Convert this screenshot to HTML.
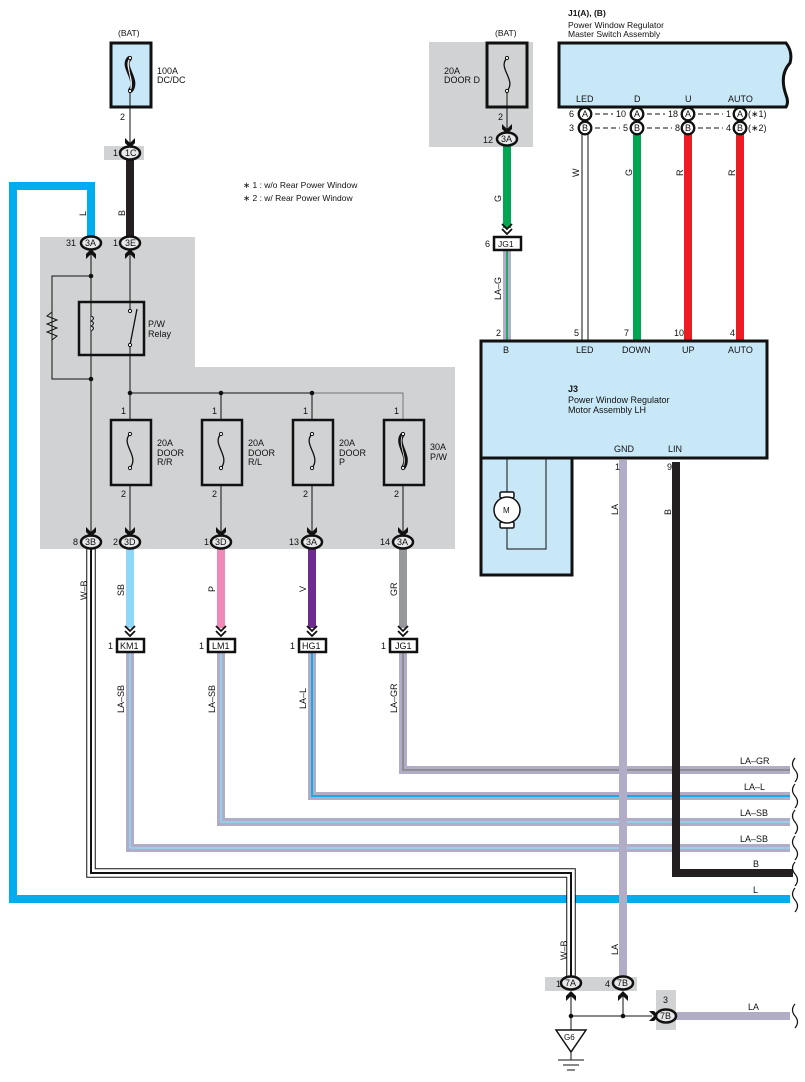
<!DOCTYPE html>
<html><head><meta charset="utf-8"><style>
html,body{margin:0;padding:0;background:#fff;}
svg{display:block;font-family:"Liberation Sans",sans-serif;}
text{font-size:9px;fill:#111;}
</style></head><body>
<svg width="805" height="1082" viewBox="0 0 805 1082" xmlns="http://www.w3.org/2000/svg">
<defs>
<g id="dn"><path d="M-5,-9 L0,-4 L5,-9 L5,-4 L0,1 L-5,-4 Z" fill="#111"/></g>
<g id="up"><path d="M-5,9 L0,4 L5,9 L5,4 L0,-1 L-5,4 Z" fill="#111"/></g>
<g id="dd"><polyline points="-5,-10 0,-5 5,-10" fill="none" stroke="#111" stroke-width="1.8"/><polyline points="-5,-5 0,0 5,-5" fill="none" stroke="#111" stroke-width="1.8"/></g>
</defs>

<path d="M40,237 H195 V367 H455 V549 H40 Z" fill="#d1d2d4"/>
<rect x="104" y="146" width="40" height="14" fill="#d1d2d4"/>
<rect x="429" y="42" width="104" height="105" fill="#d1d2d4"/>
<rect x="545" y="977" width="92" height="14" fill="#d1d2d4"/>
<rect x="656" y="990" width="20" height="40" fill="#d1d2d4"/>

<text x="118" y="36" style="font-size:8.5px">(BAT)</text>
<rect x="111" y="43" width="40" height="64" fill="#c8e8f8" stroke="#111" stroke-width="3"/>
<path d="M130,58 C120,66 140,80 130,91" fill="none" stroke="#111" stroke-width="5"/>
<path d="M130,58 C123,66 136,80 130,91" fill="none" stroke="#fff" stroke-width="0.8"/>
<path d="M130,58 C126,66 133,80 130,91" fill="none" stroke="#fff" stroke-width="0.6"/>
<circle cx="130" cy="58" r="1.6" fill="#fff" stroke="#111"/><circle cx="130" cy="91" r="1.6" fill="#fff" stroke="#111"/>
<line x1="130" y1="92" x2="130" y2="145" stroke="#111"/>
<text x="157" y="74">100A</text><text x="157" y="83">DC/DC</text>
<text x="120" y="120">2</text>
<use href="#dn" x="130" y="147"/>

<polyline points="91,243 91,186 13,186 13,899 790,899" fill="none" stroke="#00aeef" stroke-width="8"/>
<line x1="130" y1="153" x2="130" y2="243" stroke="#231f20" stroke-width="8"/>
<text transform="translate(86,216) rotate(-90)">L</text>
<text transform="translate(125,216) rotate(-90)">B</text>

<text x="243" y="188" style="font-size:8.5px">∗ 1 : w/o Rear Power Window</text>
<text x="243" y="201" style="font-size:8.5px">∗ 2 : w/ Rear Power Window</text>

<line x1="91" y1="250" x2="91" y2="540" stroke="#111"/>
<line x1="130" y1="250" x2="130" y2="540" stroke="#111"/>
<polyline points="91,276 52,276 52,379 91,379" fill="none" stroke="#111"/>
<polyline points="52,312 47,316 57,320 47,324 57,328 47,332 57,336 52,340" fill="none" stroke="#111"/>
<rect x="79" y="302" width="65" height="53" fill="#d1d2d4" stroke="#111" stroke-width="2.5"/>
<line x1="91" y1="302" x2="91" y2="355" stroke="#111"/>
<path d="M91,316 q5,2 0,5 q5,2 0,5 q5,2 0,5" fill="#d1d2d4" stroke="#111"/>
<line x1="130" y1="302" x2="130" y2="311" stroke="#111"/>
<line x1="130" y1="345" x2="130" y2="355" stroke="#111"/>
<line x1="130" y1="345" x2="137" y2="309" stroke="#111" stroke-width="1.3"/>
<circle cx="130" cy="311" r="1.6" fill="#fff" stroke="#111"/><circle cx="130" cy="345" r="1.6" fill="#fff" stroke="#111"/>
<text x="148" y="327">P/W</text><text x="148" y="337">Relay</text>
<circle cx="91" cy="276" r="2.3" fill="#111"/><circle cx="91" cy="379" r="2.3" fill="#111"/>
<line x1="130" y1="393" x2="312" y2="393" stroke="#111"/>
<polyline points="312,393 403,393 403,419" fill="none" stroke="#777"/>
<circle cx="130" cy="393" r="2.3" fill="#111"/><circle cx="221" cy="393" r="2.3" fill="#111"/><circle cx="312" cy="393" r="2.3" fill="#111"/>
<line x1="221" y1="393" x2="221" y2="540" stroke="#111"/>
<line x1="312" y1="393" x2="312" y2="540" stroke="#111"/>
<line x1="403" y1="419" x2="403" y2="540" stroke="#111"/>

<g fill="#d1d2d4" stroke="#111" stroke-width="2.5">
<rect x="111" y="420" width="40" height="65"/><rect x="202" y="420" width="40" height="65"/>
<rect x="293" y="420" width="40" height="65"/><rect x="384" y="420" width="40" height="65"/>
</g>
<g fill="none" stroke="#111" stroke-width="1.3">
<path d="M130,434 C120,444 140,456 130,468"/><path d="M221,434 C211,444 231,456 221,468"/>
<path d="M312,434 C302,444 322,456 312,468"/>
</g>
<path d="M403,434 C394,444 412,456 403,468" fill="none" stroke="#111" stroke-width="4.5"/>
<path d="M403,434 C397,444 408,456 403,468" fill="none" stroke="#fff" stroke-width="0.7"/>
<g fill="#fff" stroke="#111">
<circle cx="130" cy="434" r="1.6"/><circle cx="130" cy="468" r="1.6"/>
<circle cx="221" cy="434" r="1.6"/><circle cx="221" cy="468" r="1.6"/>
<circle cx="312" cy="434" r="1.6"/><circle cx="312" cy="468" r="1.6"/>
<circle cx="403" cy="434" r="1.6"/><circle cx="403" cy="468" r="1.6"/>
</g>
<g>
<text x="121" y="414">1</text><text x="212" y="414">1</text><text x="303" y="414">1</text><text x="394" y="414">1</text>
<text x="121" y="497">2</text><text x="212" y="497">2</text><text x="303" y="497">2</text><text x="394" y="497">2</text>
<text x="157" y="446">20A</text><text x="157" y="456">DOOR</text><text x="157" y="465">R/R</text>
<text x="248" y="446">20A</text><text x="248" y="456">DOOR</text><text x="248" y="465">R/L</text>
<text x="339" y="446">20A</text><text x="339" y="456">DOOR</text><text x="339" y="465">P</text>
<text x="430" y="450">30A</text><text x="430" y="460">P/W</text>
</g>

<line x1="130" y1="548" x2="130" y2="628" stroke="#8fd8f8" stroke-width="8"/>
<line x1="221" y1="548" x2="221" y2="628" stroke="#f088b8" stroke-width="8"/>
<line x1="312" y1="548" x2="312" y2="628" stroke="#6e2b90" stroke-width="8"/>
<line x1="403" y1="548" x2="403" y2="628" stroke="#97989b" stroke-width="8"/>
<g>
<text transform="translate(124,596) rotate(-90)">SB</text>
<text transform="translate(215,592) rotate(-90)">P</text>
<text transform="translate(306,592) rotate(-90)">V</text>
<text transform="translate(397,596) rotate(-90)">GR</text>
<text transform="translate(87,600) rotate(-90)">W–B</text>
</g>
<use href="#dd" x="130" y="636"/><use href="#dd" x="221" y="636"/><use href="#dd" x="312" y="636"/><use href="#dd" x="403" y="636"/>

<g fill="none">
<polyline points="130,652 130,848 790,848" stroke="#b1adc7" stroke-width="8"/>
<polyline points="130,652 130,848 790,848" stroke="#8fd8f8" stroke-width="1.5"/>
<polyline points="221,652 221,822 790,822" stroke="#b1adc7" stroke-width="8"/>
<polyline points="221,652 221,822 790,822" stroke="#8fd8f8" stroke-width="1.5"/>
<polyline points="312,652 312,796 790,796" stroke="#b1adc7" stroke-width="8"/>
<polyline points="312,652 312,796 790,796" stroke="#00aeef" stroke-width="1.8"/>
<polyline points="403,652 403,770 790,770" stroke="#b1adc7" stroke-width="8"/>
<polyline points="403,652 403,770 790,770" stroke="#8a8a8c" stroke-width="1.8"/>
</g>
<g>
<text transform="translate(124,713) rotate(-90)">LA–SB</text>
<text transform="translate(215,713) rotate(-90)">LA–SB</text>
<text transform="translate(306,709) rotate(-90)">LA–L</text>
<text transform="translate(397,713) rotate(-90)">LA–GR</text>
</g>
<g fill="#fff" stroke="#111" stroke-width="2.5">
<rect x="117" y="639" width="27" height="13"/><rect x="208" y="639" width="27" height="13"/>
<rect x="299" y="639" width="27" height="13"/><rect x="390" y="639" width="27" height="13"/>
</g>
<g style="font-size:8.5px">
<text x="120" y="649">KM1</text><text x="212" y="649">LM1</text><text x="302" y="649">HG1</text><text x="395" y="649">JG1</text>
<text x="108" y="649">1</text><text x="199" y="649">1</text><text x="290" y="649">1</text><text x="381" y="649">1</text>
</g>

<polyline points="676,462 676,873 793,873" fill="none" stroke="#231f20" stroke-width="8"/>
<line x1="623" y1="460" x2="623" y2="977" stroke="#b1adc7" stroke-width="8"/>

<polyline points="91,548 91,873 571,873 571,978" fill="none" stroke="#111" stroke-width="9.5"/>
<polyline points="91,548 91,873 571,873 571,978" fill="none" stroke="#fff" stroke-width="7.5"/>
<polyline points="91,548 91,873 571,873 571,978" fill="none" stroke="#111" stroke-width="2"/>

<g>
<text x="740" y="764">LA–GR</text><text x="744" y="790">LA–L</text><text x="740" y="816">LA–SB</text>
<text x="740" y="842">LA–SB</text><text x="753" y="867">B</text><text x="753" y="893">L</text>
<text x="748" y="1010">LA</text>
</g>
<g fill="none" stroke="#111" stroke-width="1.2">
<path d="M795,758 q-5,6 0,12 q5,6 0,12"/><path d="M795,784 q-5,6 0,12 q5,6 0,12"/>
<path d="M795,810 q-5,6 0,12 q5,6 0,12"/><path d="M795,836 q-5,6 0,12 q5,6 0,12"/>
<path d="M795,862 q-5,6 0,12 q5,6 0,12"/><path d="M795,888 q-5,6 0,12 q5,6 0,12"/>
<path d="M795,1004 q-5,6 0,12 q5,6 0,12"/>
</g>

<line x1="676" y1="1016" x2="790" y2="1016" stroke="#b1adc7" stroke-width="8"/>
<line x1="571" y1="992" x2="571" y2="1030" stroke="#111"/>
<line x1="623" y1="992" x2="623" y2="1016" stroke="#111"/>
<line x1="571" y1="1016" x2="652" y2="1016" stroke="#111"/>
<circle cx="571" cy="1016" r="2.3" fill="#111"/><circle cx="623" cy="1016" r="2.3" fill="#111"/>
<use href="#up" x="571" y="992"/><use href="#up" x="623" y="992"/>
<path d="M649,1011 L654,1016 L649,1021 L654,1021 L659,1016 L654,1011 Z" fill="#111"/>
<path d="M556,1030 L586,1030 L571,1052 Z" fill="#fff" stroke="#111" stroke-width="1.5"/>
<text x="564" y="1040" style="font-size:8px">G6</text>
<line x1="571" y1="1052" x2="571" y2="1060" stroke="#111"/>
<line x1="558" y1="1060" x2="584" y2="1060" stroke="#111"/>
<line x1="563" y1="1065" x2="579" y2="1065" stroke="#111"/>
<line x1="567" y1="1070" x2="575" y2="1070" stroke="#111"/>
<text x="556" y="987">1</text><text x="605" y="987">4</text><text x="663" y="1003">3</text>
<text transform="translate(567,960) rotate(-90)">W–B</text>
<text transform="translate(618,955) rotate(-90)">LA</text>
<text transform="translate(618,515) rotate(-90)">LA</text>
<text transform="translate(671,515) rotate(-90)">B</text>

<text x="495" y="36" style="font-size:8.5px">(BAT)</text>
<rect x="487" y="43" width="40" height="64" fill="#d1d2d4" stroke="#111" stroke-width="3"/>
<path d="M507,58 C497,68 517,80 507,91" fill="none" stroke="#111" stroke-width="1.3"/>
<circle cx="507" cy="58" r="1.6" fill="#fff" stroke="#111"/><circle cx="507" cy="91" r="1.6" fill="#fff" stroke="#111"/>
<line x1="507" y1="92" x2="507" y2="132" stroke="#111"/>
<use href="#dn" x="507" y="133"/>
<text x="444" y="74">20A</text><text x="444" y="83">DOOR D</text>
<text x="498" y="120">2</text><text x="483" y="143">12</text>
<line x1="507" y1="146" x2="507" y2="228" stroke="#00a651" stroke-width="8"/>
<use href="#dd" x="507" y="234"/>
<line x1="507" y1="251" x2="507" y2="340" stroke="#b1adc7" stroke-width="8"/>
<line x1="507" y1="251" x2="507" y2="340" stroke="#00a651" stroke-width="1.6"/>
<rect x="494" y="237" width="27" height="13" fill="#fff" stroke="#111" stroke-width="2.5"/>
<text x="498" y="247" style="font-size:8.5px">JG1</text><text x="485" y="247">6</text>
<text transform="translate(501,202) rotate(-90)">G</text>
<text transform="translate(501,300) rotate(-90)">LA–G</text>

<text x="568" y="16" style="font-weight:bold;font-size:8.5px">J1(A), (B)</text>
<text x="568" y="28" style="font-size:8.5px">Power Window Regulator</text>
<text x="568" y="37" style="font-size:8.5px">Master Switch Assembly</text>
<path d="M559,43 H786 Q793,52 790,63 Q779,75 786,95 Q789,102 786,107 H559 Z" fill="#c8e8f8" stroke="#111" stroke-width="3"/>
<text x="576" y="102">LED</text><text x="634" y="102">D</text><text x="685" y="102">U</text><text x="728" y="102">AUTO</text>
<g stroke="#111" stroke-width="1" stroke-dasharray="5,3">
<line x1="595" y1="114" x2="613" y2="114"/><line x1="647" y1="114" x2="665" y2="114"/><line x1="698" y1="114" x2="723" y2="114"/>
<line x1="595" y1="128" x2="620" y2="128"/><line x1="647" y1="128" x2="672" y2="128"/><line x1="698" y1="128" x2="723" y2="128"/>
</g>
<line x1="582" y1="134" x2="582" y2="340" stroke="#111"/>
<line x1="588" y1="134" x2="588" y2="340" stroke="#111"/>
<line x1="637" y1="134" x2="637" y2="340" stroke="#00a651" stroke-width="8"/>
<line x1="688" y1="134" x2="688" y2="340" stroke="#ed1c24" stroke-width="8"/>
<line x1="740" y1="134" x2="740" y2="340" stroke="#ed1c24" stroke-width="8"/>
<text transform="translate(579,177) rotate(-90)">W</text>
<text transform="translate(632,176) rotate(-90)">G</text>
<text transform="translate(683,176) rotate(-90)">R</text>
<text transform="translate(735,176) rotate(-90)">R</text>
<g fill="#fff" stroke="#111" stroke-width="2.3">
<circle cx="585" cy="114" r="6.3"/><circle cx="637" cy="114" r="6.3"/><circle cx="688" cy="114" r="6.3"/><circle cx="740" cy="114" r="6.3"/>
<circle cx="585" cy="128" r="6.3"/><circle cx="637" cy="128" r="6.3"/><circle cx="688" cy="128" r="6.3"/><circle cx="740" cy="128" r="6.3"/>
</g>
<g style="font-size:8px">
<text x="582" y="117">A</text><text x="634" y="117">A</text><text x="685" y="117">A</text><text x="737" y="117">A</text>
<text x="582" y="131">B</text><text x="634" y="131">B</text><text x="685" y="131">B</text><text x="737" y="131">B</text>
<text x="569" y="117">6</text><text x="616" y="117">10</text><text x="668" y="117">18</text><text x="726" y="117">1</text>
<text x="569" y="131">3</text><text x="623" y="131">5</text><text x="675" y="131">8</text><text x="726" y="131">4</text>
<text x="748" y="117">(∗1)</text><text x="748" y="131">(∗2)</text>
</g>

<text x="496" y="336">2</text><text x="574" y="336">5</text><text x="624" y="336">7</text><text x="674" y="336">10</text><text x="730" y="336">4</text>
<path d="M481,341 H767 V458 H572 V575 H481 Z" fill="#c8e8f8" stroke="#111" stroke-width="3"/>
<line x1="481" y1="458" x2="572" y2="458" stroke="#111" stroke-width="3"/>
<text x="503" y="353">B</text><text x="576" y="353">LED</text><text x="622" y="353">DOWN</text><text x="682" y="353">UP</text><text x="728" y="353">AUTO</text>
<text x="568" y="392" style="font-weight:bold">J3</text>
<text x="568" y="403">Power Window Regulator</text>
<text x="568" y="413">Motor Assembly LH</text>
<text x="614" y="452">GND</text><text x="668" y="452">LIN</text>
<text x="615" y="470">1</text><text x="667" y="470">9</text>
<polyline points="507,459 507,549 546,549 546,459" fill="none" stroke="#111"/>
<rect x="500" y="492" width="14" height="6" rx="1.5" fill="#fff" stroke="#111" stroke-width="1.5"/>
<rect x="500" y="522" width="14" height="6" rx="1.5" fill="#fff" stroke="#111" stroke-width="1.5"/>
<circle cx="507" cy="510" r="13" fill="#fff" stroke="#111" stroke-width="1.5"/>
<text x="503" y="513" style="font-size:8px">M</text>

<g fill="#e8e8ea" stroke="#111" stroke-width="2.5">
<ellipse cx="130" cy="153" rx="10" ry="6.5"/>
<ellipse cx="91" cy="243" rx="10" ry="6.5"/><ellipse cx="130" cy="243" rx="10" ry="6.5"/>
<ellipse cx="91" cy="542" rx="10" ry="6.5"/><ellipse cx="130" cy="542" rx="10" ry="6.5"/>
<ellipse cx="221" cy="542" rx="10" ry="6.5"/><ellipse cx="312" cy="542" rx="10" ry="6.5"/>
<ellipse cx="403" cy="542" rx="10" ry="6.5"/>
<ellipse cx="507" cy="139" rx="10" ry="6.5"/>
<ellipse cx="571" cy="983" rx="10" ry="6.5"/><ellipse cx="623" cy="983" rx="10" ry="6.5"/>
<ellipse cx="666" cy="1016" rx="10" ry="6.5"/>
</g>
<use href="#up" x="91" y="250"/><use href="#up" x="130" y="250"/>
<use href="#dn" x="91" y="536"/><use href="#dn" x="130" y="536"/><use href="#dn" x="221" y="536"/>
<use href="#dn" x="312" y="536"/><use href="#dn" x="403" y="536"/>
<g style="font-size:8px">
<text x="125" y="156">1C</text><text x="113" y="156">1</text>
<text x="85" y="246">3A</text><text x="125" y="246">3E</text><text x="66" y="246">31</text><text x="113" y="246">1</text>
<text x="85" y="545">3B</text><text x="124" y="545">3D</text><text x="215" y="545">3D</text><text x="306" y="545">3A</text><text x="397" y="545">3A</text>
<text x="73" y="545">8</text><text x="113" y="545">2</text><text x="204" y="545">1</text><text x="289" y="545">13</text><text x="380" y="545">14</text>
<text x="501" y="142">3A</text>
<text x="565" y="986">7A</text><text x="617" y="986">7B</text><text x="660" y="1019">7B</text>
</g>
</svg>
</body></html>
